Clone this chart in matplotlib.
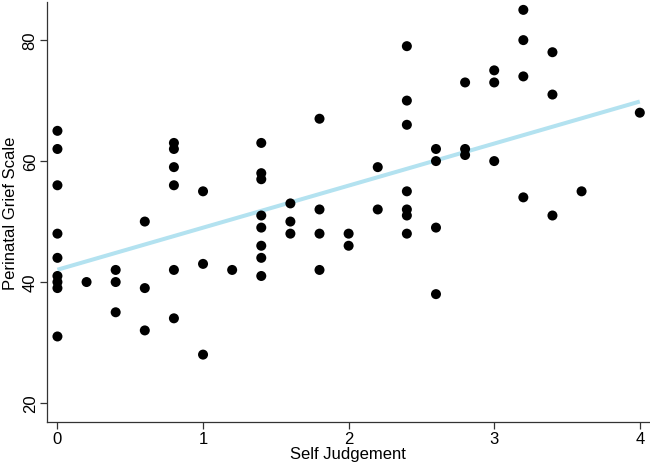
import numpy as np
import matplotlib
matplotlib.use('Agg')
import matplotlib.pyplot as plt

plt.rcParams['font.family'] = ['Liberation Sans', 'DejaVu Sans']

# self judgement score (x) and perinatal grief scale (y)
x_vals = [0, 0, 0, 0, 0, 0, 0, 0, 0,
          0.2,
          0.4, 0.4, 0.4,
          0.6, 0.6, 0.6,
          0.8, 0.8, 0.8, 0.8, 0.8, 0.8,
          1.0, 1.0, 1.0,
          1.2,
          1.4, 1.4, 1.4, 1.4, 1.4, 1.4, 1.4, 1.4,
          1.6, 1.6, 1.6,
          1.8, 1.8, 1.8, 1.8,
          2.0, 2.0,
          2.2, 2.2,
          2.4, 2.4, 2.4, 2.4, 2.4, 2.4, 2.4,
          2.6, 2.6, 2.6, 2.6,
          2.8, 2.8, 2.8,
          3.0, 3.0, 3.0,
          3.2, 3.2, 3.2, 3.2,
          3.4, 3.4, 3.4,
          3.6,
          4.0]
y_vals = [65, 62, 56, 48, 44, 41, 40, 39, 31,
          40,
          42, 40, 35,
          50, 39, 32,
          63, 62, 59, 56, 42, 34,
          55, 43, 28,
          42,
          63, 58, 57, 51, 49, 46, 44, 41,
          53, 50, 48,
          67, 52, 48, 42,
          48, 46,
          59, 52,
          79, 70, 66, 55, 52, 51, 48,
          62, 60, 49, 38,
          73, 62, 61,
          75, 73, 60,
          85, 80, 74, 54,
          78, 71, 51,
          55,
          68]

x_ticks = [0, 1, 2, 3, 4]
y_ticks = [20, 40, 60, 80]

x = np.array(x_vals, dtype=float)
y = np.array(y_vals, dtype=float)
slope, intercept = np.polyfit(x, y, 1)

fig = plt.figure(figsize=(6.5, 4.64), dpi=100)
ax = fig.add_axes([0.0718, 0.0884, 0.9282, 0.9051])

xs = np.array([x.min(), x.max()])
ax.plot(xs, intercept + slope * xs, color='#B3E2F0', lw=2.9, zorder=3,
        solid_capstyle='butt')
ax.scatter(x, y, s=52, color='black', edgecolors='none', zorder=4)

ax.set_xlim(-0.074, 4.07)
ax.set_ylim(16.86, 86.3)
ax.set_xticks(x_ticks)
ax.set_yticks(y_ticks)
ax.tick_params(axis='both', direction='out', length=5, width=0.9,
               labelsize=12, color='#333333', pad=1.5)
for lbl in ax.get_yticklabels():
    lbl.set_rotation(90)
    lbl.set_va('center')

ax.spines['top'].set_visible(False)
ax.spines['right'].set_visible(False)
for s in ('left', 'bottom'):
    ax.spines[s].set_linewidth(0.9)
    ax.spines[s].set_color('#333333')

ax.set_xlabel('Self Judgement', fontsize=12, labelpad=0)
ax.set_ylabel('Perinatal Grief Scale', fontsize=12, labelpad=3)

fig.savefig('out.png', dpi=100, facecolor='white')
